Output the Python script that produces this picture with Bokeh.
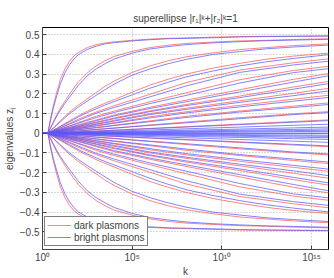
from bokeh.plotting import figure
from bokeh.models import Range1d, FixedTicker, Legend, LegendItem
from bokeh.embed import file_html
from bokeh.resources import INLINE

# fine k grid for the outer curves: log10 k = 0, 0.3, 0.45, 0.6, 0.8, 1, 1.25, 1.5, 1.75, 2, 2.5, 3, 3.5, 4, 5, 6, 7, 8, 9.5, 11, 12.5, 14, 15.95
k_fine = [1, 2, 2.82, 4, 6.31, 10, 17.8, 31.6, 56.2, 100, 316, 1e3, 3162, 1e4, 1e5, 1e6, 1e7,
          1e8, 3.16e9, 1e11, 3.16e12, 1e14, 8.9e15]
# coarse k grid for the inner curves: log10 k = 0, 0.3, 0.6, 1, 1.5, 2, 3, 4, 6, 8, 11, 14, 15.95
k_coarse = [1, 2, 4, 10, 31.6, 100, 1e3, 1e4, 1e6, 1e8, 1e11, 1e14, 8.9e15]

# upper branch, outer curves (fine grid)
dark_outer = [
    [0, 0, 0.075, 0.140, 0.210, 0.273, 0.327, 0.365, 0.393, 0.410, 0.435, 0.450, 0.459, 0.464, 0.472, 0.478, 0.482, 0.484, 0.488, 0.491, 0.492, 0.493, 0.495],
    [0, 0, 0.029, 0.058, 0.096, 0.127, 0.163, 0.197, 0.230, 0.260, 0.307, 0.342, 0.369, 0.390, 0.416, 0.435, 0.447, 0.456, 0.463, 0.469, 0.472, 0.476, 0.480],
    [0, 0, 0.014, 0.027, 0.045, 0.064, 0.086, 0.106, 0.125, 0.143, 0.175, 0.207, 0.239, 0.265, 0.309, 0.342, 0.368, 0.388, 0.408, 0.425, 0.435, 0.445, 0.454],
    [0, 0, 0.008, 0.016, 0.026, 0.037, 0.050, 0.063, 0.076, 0.089, 0.112, 0.134, 0.153, 0.171, 0.209, 0.245, 0.274, 0.300, 0.331, 0.355, 0.376, 0.392, 0.407],
]
bright_outer = [
    [0, 0, 0.067, 0.127, 0.192, 0.252, 0.307, 0.347, 0.377, 0.399, 0.426, 0.442, 0.454, 0.460, 0.469, 0.475, 0.480, 0.482, 0.485, 0.489, 0.491, 0.492, 0.493],
    [0, 0, 0.026, 0.053, 0.088, 0.118, 0.152, 0.183, 0.213, 0.244, 0.292, 0.327, 0.354, 0.377, 0.407, 0.428, 0.440, 0.450, 0.459, 0.465, 0.470, 0.473, 0.477],
    [0, 0, 0.0125, 0.025, 0.042, 0.058, 0.079, 0.099, 0.116, 0.133, 0.164, 0.193, 0.222, 0.250, 0.295, 0.327, 0.353, 0.375, 0.400, 0.415, 0.429, 0.438, 0.448],
    [0, 0, 0.0073, 0.0146, 0.024, 0.034, 0.046, 0.058, 0.070, 0.083, 0.105, 0.125, 0.144, 0.161, 0.195, 0.229, 0.259, 0.286, 0.316, 0.342, 0.363, 0.380, 0.399],
]

# upper branch, inner curves (coarse grid)
dark_inner = [
    [0, 0, 0.0125, 0.029, 0.050, 0.071, 0.108, 0.140, 0.198, 0.257, 0.321, 0.358, 0.378],
    [0, 0, 0.0096, 0.022, 0.038, 0.054, 0.087, 0.113, 0.160, 0.205, 0.272, 0.319, 0.340],
    [0, 0, 0.0076, 0.018, 0.030, 0.043, 0.068, 0.093, 0.132, 0.168, 0.221, 0.274, 0.303],
    [0, 0, 0.0063, 0.015, 0.025, 0.036, 0.057, 0.078, 0.114, 0.146, 0.189, 0.235, 0.263],
    [0, 0, 0.0054, 0.0125, 0.021, 0.030, 0.048, 0.066, 0.100, 0.127, 0.165, 0.203, 0.228],
    [0, 0, 0.0044, 0.010, 0.018, 0.025, 0.040, 0.054, 0.084, 0.109, 0.142, 0.173, 0.193],
    [0, 0, 0.0033, 0.0078, 0.013, 0.019, 0.030, 0.041, 0.063, 0.086, 0.113, 0.138, 0.154],
    [0, 0, 0.0022, 0.0051, 0.0088, 0.0125, 0.020, 0.027, 0.042, 0.057, 0.079, 0.099, 0.110],
    [0, 0, 0.0013, 0.003, 0.0052, 0.0074, 0.0117, 0.0161, 0.0248, 0.0335, 0.0465, 0.0596, 0.068],
]
bright_inner = [
    [0, 0, 0.0115, 0.027, 0.046, 0.065, 0.102, 0.131, 0.185, 0.240, 0.309, 0.347, 0.366],
    [0, 0, 0.009, 0.021, 0.036, 0.051, 0.080, 0.106, 0.151, 0.192, 0.255, 0.308, 0.328],
    [0, 0, 0.007, 0.017, 0.029, 0.040, 0.064, 0.088, 0.126, 0.160, 0.210, 0.260, 0.292],
    [0, 0, 0.006, 0.014, 0.024, 0.034, 0.054, 0.074, 0.110, 0.140, 0.181, 0.224, 0.252],
    [0, 0, 0.005, 0.012, 0.020, 0.028, 0.045, 0.062, 0.095, 0.121, 0.157, 0.191, 0.215],
    [0, 0, 0.004, 0.0096, 0.016, 0.023, 0.037, 0.051, 0.078, 0.103, 0.134, 0.163, 0.182],
    [0, 0, 0.003, 0.0073, 0.0125, 0.018, 0.028, 0.039, 0.059, 0.080, 0.108, 0.131, 0.146],
    [0, 0, 0.0021, 0.0049, 0.0083, 0.0118, 0.019, 0.026, 0.040, 0.053, 0.074, 0.095, 0.105],
    [0, 0, 0.0012, 0.0029, 0.0049, 0.007, 0.0111, 0.0152, 0.0234, 0.0316, 0.0439, 0.0561, 0.0642],
    [0, 0, 0.0009, 0.0021, 0.0035, 0.005, 0.0079, 0.0109, 0.0168, 0.0226, 0.0315, 0.0403, 0.046],
    [0, 0, 0.0006, 0.0014, 0.0024, 0.0034, 0.0054, 0.0074, 0.0114, 0.0154, 0.0214, 0.0274, 0.0313],
    [0, 0, 0.0004, 0.001, 0.0017, 0.0024, 0.0039, 0.0053, 0.0081, 0.011, 0.0153, 0.0196, 0.0224],
    [0, 0, 0.0003, 0.0007, 0.0012, 0.0017, 0.0027, 0.0037, 0.0057, 0.0077, 0.0107, 0.0137, 0.0157],
    [0, 0, 0.0002, 0.0004, 0.0008, 0.0011, 0.0017, 0.0023, 0.0036, 0.0048, 0.0067, 0.0086, 0.0098],
    [0, 0, 0, 0, 0, 0, 0, 0, 0, 0, 0, 0, 0],
]

y_ticks = [-0.5, -0.4, -0.3, -0.2, -0.1, 0, 0.1, 0.2, 0.3, 0.4, 0.5]
y_tick_labels = ["−0.5", "−0.4", "−0.3", "−0.2", "−0.1", "0", "0.1", "0.2", "0.3", "0.4", "0.5"]
x_ticks = [1, 1e5, 1e10, 1e15]
x_tick_labels = ["10⁰", "10⁵", "10¹⁰", "10¹⁵"]

FONT = "Liberation Sans"
RED = "#ff5a5a"
BLUE = "#5a5aff"
ALPHA = 0.75

p = figure(frame_width=286, frame_height=222, x_axis_type="log",
           x_range=Range1d(1, 8.9e15), y_range=Range1d(-0.59, 0.537),
           output_backend="svg", toolbar_location=None,
           min_border_left=35, min_border_right=5, min_border_top=27, min_border_bottom=22)

p.title.text = "superellipse |r₁|ᵏ+|r₂|ᵏ=1"
p.title.align = "center"
p.title.text_font = FONT
p.title.text_font_size = "10px"
p.title.text_font_style = "normal"
p.title.standoff = 8

p.outline_line_color = "black"
p.outline_line_width = 1
p.background_fill_color = "white"
p.border_fill_color = "white"

red_r = None
blue_r = None
for ks, group in ((k_fine, dark_outer), (k_coarse, dark_inner)):
    for vals in group:
        r = p.line(ks, vals, line_color=RED, line_width=1, line_alpha=ALPHA)
        p.line(ks, [-v for v in vals], line_color=RED, line_width=1, line_alpha=ALPHA)
        if red_r is None:
            red_r = r
for ks, group in ((k_fine, bright_outer), (k_coarse, bright_inner)):
    for vals in group:
        r = p.line(ks, vals, line_color=BLUE, line_width=1, line_alpha=ALPHA)
        p.line(ks, [-v for v in vals], line_color=BLUE, line_width=1, line_alpha=ALPHA)
        if blue_r is None:
            blue_r = r

# axes
p.xaxis.ticker = FixedTicker(ticks=x_ticks, minor_ticks=[])
p.xaxis.major_label_overrides = {t: l for t, l in zip(x_ticks, x_tick_labels)}
p.yaxis.ticker = FixedTicker(ticks=y_ticks, minor_ticks=[])
p.yaxis.major_label_overrides = {t: l for t, l in zip(y_ticks, y_tick_labels)}
p.xaxis.axis_label = "k"
p.yaxis.axis_label = "eigenvalues zⱼ"
for ax in (p.xaxis, p.yaxis):
    ax.major_label_text_font = FONT
    ax.major_label_text_font_size = "10px"
    ax.axis_label_text_font = FONT
    ax.axis_label_text_font_size = "10px"
    ax.axis_label_text_font_style = "normal"
    ax.major_tick_in = 4
    ax.major_tick_out = 0
    ax.minor_tick_in = 0
    ax.minor_tick_out = 0
    ax.axis_line_color = "#444444"
    ax.major_tick_line_color = "#444444"
p.xaxis.axis_label_standoff = 0
p.yaxis.axis_label_standoff = 2
p.xaxis.major_label_standoff = 2
p.yaxis.major_label_standoff = 3

p.xgrid.ticker = FixedTicker(ticks=x_ticks)
p.ygrid.ticker = FixedTicker(ticks=y_ticks)
for g in (p.xgrid, p.ygrid):
    g.grid_line_color = "#b0b0b0"
    g.grid_line_dash = "1 2"
    g.grid_line_width = 1

legend = Legend(items=[LegendItem(label="dark plasmons", renderers=[red_r]),
                       LegendItem(label="bright plasmons", renderers=[blue_r])],
                location=(2, 3))
legend.border_line_color = "black"
legend.border_line_width = 1
legend.background_fill_color = "white"
legend.background_fill_alpha = 1
legend.label_text_font = FONT
legend.label_text_font_size = "10px"
legend.margin = 0
legend.padding = 2
legend.spacing = 0
legend.label_height = 12
legend.glyph_height = 12
legend.glyph_width = 24
legend.label_standoff = 3
p.add_layout(legend)

open("out.html", "w").write(file_html(p, INLINE))
